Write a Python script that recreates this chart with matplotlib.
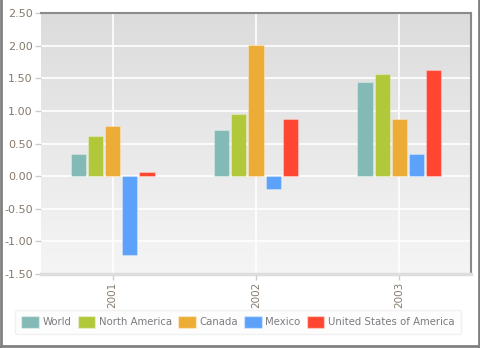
import matplotlib.pyplot as plt
import numpy as np
from matplotlib.patches import Rectangle
from matplotlib.lines import Line2D
from matplotlib.colors import LinearSegmentedColormap

years = ["2001", "2002", "2003"]
series = ["World", "North America", "Canada", "Mexico", "United States of America"]
world = [0.34, 0.71, 1.44]
north_america = [0.61, 0.95, 1.57]
canada = [0.77, 2.01, 0.87]
mexico = [-1.21, -0.20, 0.34]
usa = [0.06, 0.87, 1.62]
values = [world, north_america, canada, mexico, usa]
colors = ["#83bab5", "#b2c83b", "#ecac35", "#5ca2fa", "#fe4630"]

fig = plt.figure(figsize=(4.8, 3.48), dpi=100)
ax = fig.add_axes([41/480, 1-274/348, 430/480, 261/348])

# gradient background
grad = np.linspace(0, 1, 256).reshape(-1, 1)
bg = LinearSegmentedColormap.from_list("bg", ["#f5f5f5", "#dcdcdc"])
ax.imshow(grad, extent=[-0.5, 2.5, -1.5, 2.5], aspect="auto", cmap=bg,
          origin="lower", zorder=0)

x = np.arange(len(years))
step = 0.12
width = 0.106
for i, (vals, c) in enumerate(zip(values, colors)):
    ax.bar(x + (i - 2) * step, vals, width, color=c, edgecolor=(1, 1, 1, 0.3),
           linewidth=0.8, zorder=3)

ax.set_xlim(-0.5, 2.5)
ax.set_ylim(-1.5, 2.5)
yt = np.arange(-1.5, 2.51, 0.5)
ax.set_yticks(yt)
ax.set_yticklabels(["%.2f" % v for v in yt])
ax.set_xticks(x)
ax.set_xticklabels(years, rotation=90)
ax.grid(True, color="white", linewidth=1.2, zorder=1)
ax.set_axisbelow(True)

lbl = "#857a6e"
ax.tick_params(axis="y", colors="#cccccc", labelcolor=lbl, labelsize=8, length=4, width=1, pad=2)
ax.tick_params(axis="x", colors="#cccccc", labelcolor=lbl, labelsize=7.5, length=4, width=1, pad=1.5)

ax.spines["left"].set_visible(False)
for s in ("top", "right"):
    ax.spines[s].set_color("#8a8a8a")
    ax.spines[s].set_linewidth(1.5)
ax.spines["bottom"].set_color("#dddddd")
ax.spines["bottom"].set_linewidth(2.5)

# legend
handles = [Rectangle((0, 0), 1, 1, facecolor=c, edgecolor=(1, 1, 1, 0.4), linewidth=1) for c in colors]
leg = fig.legend(handles, series, loc="center", bbox_to_anchor=(238/480, 1-322/348), ncol=5,
                 frameon=True, fontsize=7.3, handlelength=1.75, handleheight=1.4,
                 handletextpad=0.35, columnspacing=0.6, borderpad=0.65, fancybox=True)
leg.get_frame().set_edgecolor("#eeeeee")
leg.get_frame().set_facecolor("#fdfdfd")
leg.set_zorder(0)
for t in leg.get_texts():
    t.set_color("#7d7a80")

# outer frame
fig.add_artist(Line2D([0.5/480, 0.5/480], [0, 1], color="#808080", linewidth=2))
fig.add_artist(Line2D([479.2/480, 479.2/480], [0, 1], color="#808080", linewidth=2))
fig.add_artist(Line2D([0, 1], [1.8/348, 1.8/348], color="#808080", linewidth=2))

fig.savefig("out.png", dpi=100)
